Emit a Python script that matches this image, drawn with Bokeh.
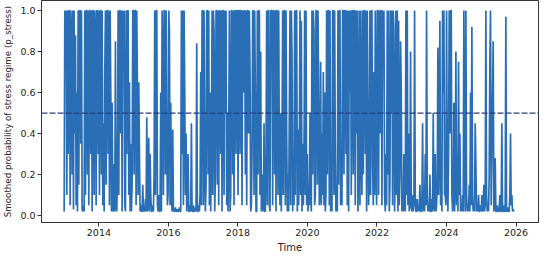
import pandas as pd
from datetime import datetime
from bokeh.plotting import figure
from bokeh.models import Range1d, DatetimeTickFormatter, FixedTicker, PrintfTickFormatter, Span
from bokeh.embed import file_html
from bokeh.resources import INLINE

# Weekly smoothed probability of the stress regime (52 weeks per year)
y2013 = [0.02, 1.0, 0.97, 1.0, 0.1, 1.0, 0.3, 1.0, 1.0, 0.05, 1.0, 0.9, 0.2, 1.0, 0.03, 1.0, 0.4, 0.88, 0.05, 0.6,
         0.02, 1.0, 0.15, 1.0, 1.0, 0.35, 1.0, 0.03, 0.02, 0.05, 0.02, 1.0, 0.1, 1.0, 1.0, 0.2, 1.0, 0.05, 1.0, 1.0,
         0.3, 1.0, 0.02, 1.0, 1.0, 0.1, 1.0, 0.9, 0.05, 1.0, 1.0, 0.3]
y2014 = [1.0, 0.1, 1.0, 1.0, 0.2, 1.0, 0.05, 0.45, 0.02, 0.7, 1.0, 0.15, 1.0, 1.0, 0.3, 1.0, 0.05, 1.0, 0.6, 0.02,
         0.55, 0.03, 0.02, 0.25, 0.02, 0.85, 0.05, 0.02, 0.2, 1.0, 0.1, 1.0, 1.0, 0.4, 1.0, 0.02, 1.0, 0.7, 1.0, 0.05,
         0.02, 1.0, 0.3, 1.0, 1.0, 0.1, 0.65, 0.02, 0.35, 0.02, 0.15, 1.0]
y2015 = [1.0, 0.2, 1.0, 1.0, 0.05, 1.0, 0.6, 0.1, 0.65, 0.3, 0.02, 0.05, 0.02, 0.02, 0.15, 0.02, 0.03, 0.02, 0.08, 0.02,
         0.48, 0.02, 0.05, 0.38, 0.02, 0.3, 0.1, 0.02, 0.02, 0.05, 0.02, 0.2, 1.0, 0.1, 1.0, 1.0, 0.05, 0.02, 0.1, 0.02,
         0.02, 0.6, 0.02, 1.0, 0.8, 0.1, 1.0, 1.0, 0.2, 1.0, 0.4, 0.05]
y2016 = [0.1, 1.0, 0.9, 0.05, 0.55, 0.1, 0.02, 0.42, 0.03, 0.02, 0.02, 0.04, 0.02, 0.02, 0.03, 0.02, 0.02, 0.04, 0.02, 0.02,
         1.0, 0.3, 1.0, 0.05, 1.0, 0.6, 0.1, 0.4, 0.02, 0.1, 0.3, 0.02, 0.02, 0.05, 0.02, 0.45, 0.02, 0.02, 0.05, 0.02,
         0.02, 0.04, 0.02, 0.84, 0.02, 0.02, 0.05, 0.02, 0.1, 0.7, 0.05, 1.0]
y2017 = [1.0, 0.05, 1.0, 0.3, 0.02, 0.15, 1.0, 1.0, 0.2, 1.0, 0.05, 0.6, 0.02, 0.3, 1.0, 0.1, 1.0, 0.9, 0.02, 0.2,
         1.0, 1.0, 0.15, 1.0, 0.05, 1.0, 1.0, 0.3, 1.0, 0.02, 1.0, 1.0, 0.1, 1.0, 0.5, 1.0, 0.05, 0.5, 0.02, 0.35,
         1.0, 0.02, 0.1, 1.0, 1.0, 0.2, 1.0, 0.05, 1.0, 1.0, 0.3, 1.0]
y2018 = [1.0, 0.1, 1.0, 1.0, 0.3, 1.0, 1.0, 0.05, 1.0, 0.6, 1.0, 1.0, 0.2, 1.0, 0.05, 1.0, 1.0, 0.4, 1.0, 0.7,
         0.02, 0.05, 0.3, 1.0, 1.0, 0.1, 1.0, 0.6, 0.02, 0.02, 1.0, 0.2, 1.0, 1.0, 0.1, 0.8, 0.02, 0.05, 0.2, 0.02,
         0.45, 0.02, 0.02, 0.3, 1.0, 0.05, 1.0, 1.0, 0.05, 0.02, 1.0, 1.0]
y2019 = [1.0, 0.05, 1.0, 1.0, 0.2, 1.0, 0.02, 1.0, 1.0, 0.1, 1.0, 0.3, 0.05, 0.5, 0.02, 0.35, 1.0, 0.1, 1.0, 1.0,
         0.05, 1.0, 0.4, 0.02, 0.2, 0.02, 0.5, 1.0, 0.05, 1.0, 0.8, 0.02, 0.3, 0.05, 1.0, 0.1, 1.0, 1.0, 0.02, 0.42,
         0.05, 0.3, 1.0, 0.1, 0.95, 0.02, 0.35, 0.05, 0.25, 1.0, 0.1, 1.0]
y2020 = [0.05, 0.3, 0.02, 0.15, 0.05, 0.5, 0.1, 0.02, 1.0, 0.2, 1.0, 0.9, 0.05, 0.1, 1.0, 1.0, 0.15, 1.0, 0.6, 0.05,
         0.12, 0.75, 0.05, 0.4, 0.1, 0.7, 0.05, 0.6, 0.02, 0.1, 1.0, 0.2, 1.0, 1.0, 0.05, 1.0, 0.02, 0.1, 0.02, 1.0,
         1.0, 0.1, 1.0, 0.3, 0.02, 0.05, 0.02, 1.0, 0.15, 1.0, 1.0, 0.05]
y2021 = [0.1, 0.05, 1.0, 1.0, 0.2, 1.0, 1.0, 0.3, 1.0, 0.05, 1.0, 0.02, 1.0, 0.6, 1.0, 0.1, 1.0, 1.0, 0.2, 1.0,
         1.0, 0.05, 1.0, 0.4, 1.0, 0.02, 0.3, 1.0, 0.05, 1.0, 0.4, 0.1, 1.0, 0.2, 1.0, 1.0, 0.3, 1.0, 0.02, 1.0,
         0.5, 0.05, 0.2, 1.0, 0.1, 1.0, 1.0, 0.25, 0.05, 0.7, 0.1, 1.0]
y2022 = [0.3, 0.05, 1.0, 1.0, 0.1, 1.0, 0.4, 1.0, 1.0, 0.05, 1.0, 0.9, 1.0, 0.1, 0.02, 0.3, 0.05, 1.0, 0.2, 1.0,
         0.02, 0.15, 1.0, 0.5, 1.0, 0.05, 1.0, 0.9, 0.02, 0.25, 1.0, 0.1, 1.0, 0.02, 0.95, 0.05, 0.2, 0.85, 0.6, 0.02,
         0.1, 0.02, 0.3, 0.05, 0.02, 1.0, 0.1, 1.0, 0.05, 0.4, 0.02, 0.05]
y2023 = [0.8, 0.05, 0.02, 0.1, 0.02, 0.05, 1.0, 0.1, 0.02, 0.02, 0.08, 0.02, 0.05, 0.02, 0.15, 0.02, 0.02, 0.05, 0.45, 0.02,
         0.1, 0.02, 0.3, 0.05, 1.0, 0.1, 0.02, 0.05, 0.02, 0.2, 0.02, 0.02, 0.08, 0.02, 0.5, 0.05, 0.02, 0.3, 0.02, 0.05,
         0.15, 0.82, 0.1, 0.35, 0.95, 0.05, 0.25, 0.02, 1.0, 0.6, 1.0, 0.1]
y2024 = [0.1, 0.05, 1.0, 0.2, 0.02, 0.3, 1.0, 0.4, 1.0, 1.0, 0.1, 0.02, 0.05, 0.55, 0.02, 0.2, 0.8, 0.05, 0.3, 0.02,
         0.75, 0.1, 0.4, 0.02, 0.05, 0.02, 0.1, 0.02, 1.0, 0.3, 0.02, 1.0, 0.1, 0.02, 0.05, 0.02, 0.15, 0.02, 0.6, 0.05,
         0.92, 0.1, 0.02, 0.05, 0.02, 0.45, 0.25, 0.02, 0.05, 0.02, 0.1, 0.02]
y2025 = [0.02, 0.05, 0.02, 0.1, 0.02, 0.03, 0.15, 0.02, 0.05, 1.0, 0.1, 0.02, 0.05, 0.02, 0.2, 0.75, 1.0, 0.05, 0.3, 0.55,
         0.85, 0.02, 0.05, 0.28, 0.02, 0.02, 0.05, 0.02, 0.02, 0.03, 0.1, 0.02, 0.02, 0.45, 0.02, 0.02, 0.05, 0.02, 0.02, 0.97,
         0.02, 0.02, 0.04, 0.02, 0.02, 0.1, 0.4, 0.05, 0.1, 0.02, 0.03, 0.02]

threshold = 0.5
x_tick_years = [2014, 2016, 2018, 2020, 2022, 2024, 2026]
y_ticks = [0.0, 0.2, 0.4, 0.6, 0.8, 1.0]

p_stress = (y2013 + y2014 + y2015 + y2016 + y2017 + y2018 + y2019 + y2020 + y2021
            + y2022 + y2023 + y2024 + y2025)
dates = pd.date_range("2013-01-01", periods=len(p_stress), freq="7D")
x_ticks_ms = [pd.Timestamp(f"{yr}-01-01").value / 1e6 for yr in x_tick_years]

p = figure(width=542, height=255, output_backend="svg", toolbar_location=None,
           x_axis_type="datetime",
           x_range=Range1d(datetime(2012, 5, 8), datetime(2026, 8, 25)),
           y_range=Range1d(-0.034, 1.049),
           min_border_left=30, min_border_right=4, min_border_top=0, min_border_bottom=30)

p.line(dates, p_stress, line_color="#2a6fb5", line_width=1.7)
p.add_layout(Span(location=threshold, dimension="width", line_color="#283c80",
                  line_dash="6 2", line_width=1.3))

p.xgrid.visible = False
p.ygrid.visible = False
p.outline_line_color = "#333333"
p.outline_line_width = 1
p.background_fill_color = "white"
p.border_fill_color = "white"

p.xaxis.ticker = FixedTicker(ticks=x_ticks_ms)
p.xaxis.formatter = DatetimeTickFormatter(years="%Y", months="%Y", days="%Y")
p.yaxis.ticker = FixedTicker(ticks=y_ticks)
p.yaxis.formatter = PrintfTickFormatter(format="%.1f")
p.xaxis.axis_label = "Time"
p.yaxis.axis_label = "Smoothed probability of stress regime (p_stress)"

for ax in (p.xaxis[0], p.yaxis[0]):
    ax.axis_line_color = "#333333"
    ax.major_tick_line_color = "#333333"
    ax.minor_tick_line_color = None
    ax.major_tick_in = 0
    ax.major_tick_out = 4
    ax.major_label_text_font = "DejaVu Sans"
    ax.major_label_text_font_size = "9.5px"
    ax.major_label_text_color = "#222222"
    ax.axis_label_text_font = "DejaVu Sans"
    ax.axis_label_text_font_size = "10px"
    ax.axis_label_text_font_style = "normal"
    ax.axis_label_text_color = "#222222"
    ax.axis_label_standoff = 3
    ax.major_label_standoff = 2

p.yaxis[0].axis_label_text_font_size = "8.7px"
p.yaxis[0].axis_label_standoff = 4

open("out.html", "w").write(file_html(p, INLINE))
